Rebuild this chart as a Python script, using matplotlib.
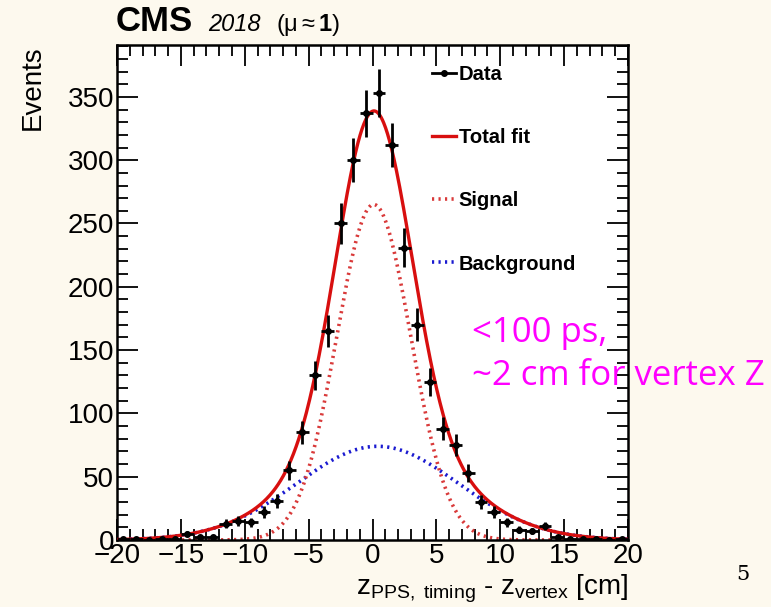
import numpy as np
import matplotlib.pyplot as plt
from matplotlib.lines import Line2D
from matplotlib.ticker import MultipleLocator


# histogram bins (cm) and event counts
BIN_CENTERS = [
    -19.5, -18.5, -17.5, -16.5, -15.5, -14.5, -13.5, -12.5, -11.5, -10.5,
    -9.5, -8.5, -7.5, -6.5, -5.5, -4.5, -3.5, -2.5, -1.5, -0.5,
    0.5, 1.5, 2.5, 3.5, 4.5, 5.5, 6.5, 7.5, 8.5, 9.5,
    10.5, 11.5, 12.5, 13.5, 14.5, 15.5, 16.5, 17.5, 18.5, 19.5,
]
EVENTS = [
    1, 1, 0, 1, 1, 5, 2, 2, 13, 15,
    14, 22, 31, 55, 85, 130, 165, 250, 300, 337,
    353, 312, 231, 170, 125, 88, 75, 53, 30, 22,
    14, 8, 7, 11, 2, 1, 1, 1, 0, 1,
]

# gaussian fit parameters: amplitude, mean, sigma
SIGNAL_FIT = [265.0, 0.1, 2.9]
BACKGROUND_FIT = [74.0, 0.4, 6.3]

BG = '#fdf9ee'
FONT = 'Liberation Sans'


def gauss(x, amp, mean, sigma):
    return amp * np.exp(-0.5 * ((x - mean) / sigma) ** 2)


def main():
    plt.rcParams['font.family'] = FONT
    plt.rcParams['mathtext.fontset'] = 'custom'
    plt.rcParams['mathtext.rm'] = FONT
    plt.rcParams['mathtext.it'] = FONT + ':italic'
    plt.rcParams['mathtext.bf'] = FONT + ':bold'

    fig = plt.figure(figsize=(7.71, 6.07), dpi=100, facecolor=BG)
    ax = fig.add_axes([0.1518, 0.1104, 0.6627, 0.8155])
    ax.set_facecolor('white')

    x = np.array(BIN_CENTERS)
    y = np.array(EVENTS, dtype=float)
    xf = np.linspace(-20, 20, 800)
    sig = gauss(xf, *SIGNAL_FIT)
    bkg = gauss(xf, *BACKGROUND_FIT)

    dots = (0, (0.6, 1.2))
    ax.plot(xf, bkg, color='#1a1ad0', lw=2.6, linestyle=dots, zorder=2)
    ax.plot(xf, sig, color='#d93a3a', lw=2.6, linestyle=dots, zorder=2)
    ax.plot(xf, sig + bkg, color='#d80f0f', lw=2.4, zorder=3)

    ax.errorbar(x, y, xerr=0.5, yerr=np.sqrt(y), fmt='o', color='black',
                ms=4, elinewidth=2, capsize=0, zorder=4)

    ax.set_xlim(-20, 20)
    ax.set_ylim(0, 391)
    ax.xaxis.set_major_locator(MultipleLocator(5))
    ax.xaxis.set_minor_locator(MultipleLocator(1))
    ax.yaxis.set_major_locator(MultipleLocator(50))
    ax.yaxis.set_minor_locator(MultipleLocator(10))
    ax.tick_params(which='both', direction='in', top=True, right=True,
                   width=1.3, labelsize=20, pad=2)
    ax.tick_params(which='major', length=15)
    ax.tick_params(which='minor', length=8)
    for s in ax.spines.values():
        s.set_linewidth(1.8)

    ax.set_xticks(range(-20, 21, 5))
    ax.set_xticklabels(['\u221220', '\u221215', '\u221210', '\u22125',
                        '0', '5', '10', '15', '20'])

    ax.set_ylabel('Events', fontsize=20, loc='top', labelpad=16)
    ax.set_xlabel(r'$\mathrm{z}_{\mathrm{PPS,\ timing}}$ - '
                  r'$\mathrm{z}_{\mathrm{vertex}}$ [cm]',
                  fontsize=20, loc='right', labelpad=3)

    fig.text(0.150, 0.949, 'CMS', fontsize=25, fontweight='bold',
             va='baseline')
    fig.text(0.27, 0.949, '2018', fontsize=17, style='italic',
             va='baseline')
    fig.text(0.358, 0.949, r'($\mathrm{\mu} \approx \mathbf{1}$)',
             fontsize=17, va='baseline')

    handles = [
        Line2D([], [], color='black', marker='o', ms=4, lw=2),
        Line2D([], [], color='#d80f0f', lw=2.4),
        Line2D([], [], color='#d93a3a', lw=2.6, linestyle=dots),
        Line2D([], [], color='#1a1ad0', lw=2.6, linestyle=dots),
    ]
    labels = ['Data', 'Total fit', 'Signal', 'Background']
    ax.legend(handles, labels, loc='upper left',
              bbox_to_anchor=(0.58, 0.997), frameon=False,
              prop={'weight': 'bold', 'size': 14.5}, labelspacing=2.2,
              handlelength=1.2, handletextpad=0.15)

    fig.text(0.612, 0.4366, '<100 ps,', color='#ff00ff',
             fontsize=25, family='Open Sans', va='baseline')
    fig.text(0.612, 0.3657, '~2 cm for vertex Z', color='#ff00ff',
             fontsize=25, family='Open Sans', va='baseline')
    fig.text(0.955, 0.045, '5', fontsize=15, family='DejaVu Serif')

    fig.savefig('out.png', dpi=100, facecolor=BG)


if __name__ == '__main__':
    main()
